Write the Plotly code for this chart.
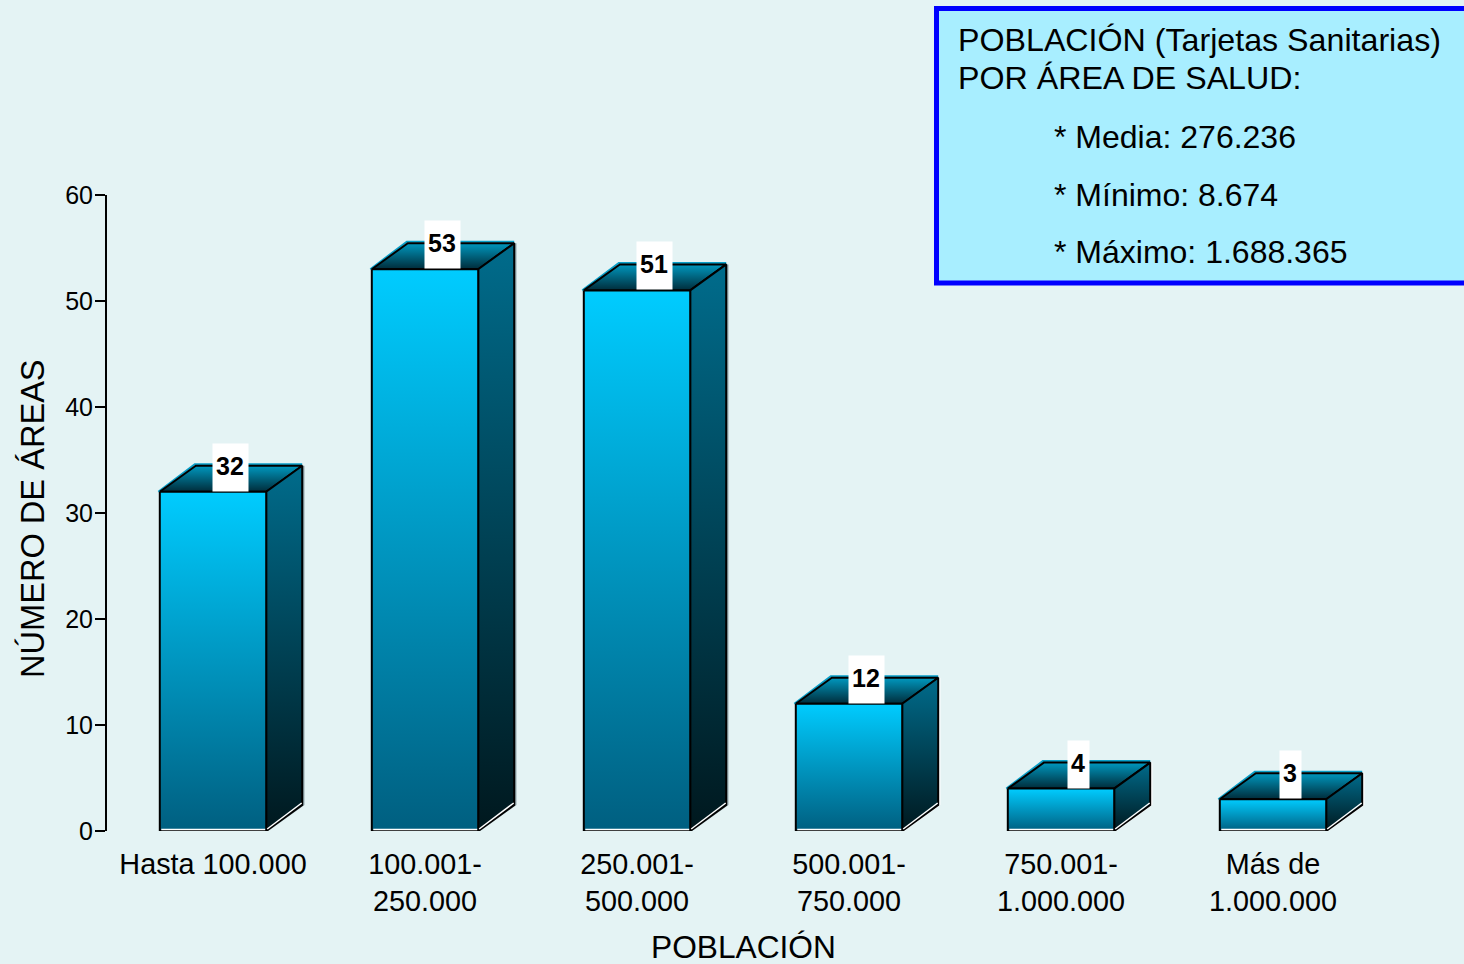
import plotly.graph_objects as go

categories = ["Hasta 100.000", "100.001-<br>250.000", "250.001-<br>500.000",
              "500.001-<br>750.000", "750.001-<br>1.000.000", "Más de<br>1.000.000"]
values = [32, 53, 51, 12, 4, 3]
y_ticks = [0, 10, 20, 30, 40, 50, 60]
box_head = ["POBLACIÓN (Tarjetas Sanitarias)", "POR ÁREA DE SALUD:"]
box_items = ["* Media: 276.236", "* Mínimo: 8.674", "* Máximo: 1.688.365"]

W, H = 1464, 964
LEFT, RIGHT, TOP, BOTTOM = 107, 1379, 195, 831
px_x = (RIGHT - LEFT) / 6
px_y = (BOTTOM - TOP) / 60
half = 53.2 / px_x
dx = 36 / px_x
dy = 26 / px_y
FONT = "Liberation Sans"


def vgrad(top, bottom):
    return dict(type="vertical", colorscale=[[0, bottom], [1, top]])


fig = go.Figure()


def poly(xs, ys, grad):
    fig.add_trace(go.Scatter(x=xs + xs[:1], y=ys + ys[:1], mode="lines", fill="toself",
                             fillgradient=grad, line=dict(color="#000000", width=2),
                             hoverinfo="skip", showlegend=False))


def edge(xs, ys, color, width):
    fig.add_trace(go.Scatter(x=xs, y=ys, mode="lines", line=dict(color=color, width=width),
                             hoverinfo="skip", showlegend=False))


for i, v in enumerate(values):
    c = i + 0.5
    l, r = c - half, c + half
    ox, oy = 1 / px_x, 1 / px_y
    # light highlight behind the top-left edge
    edge([l - 1.5 * ox, l + dx - ox, r + dx], [v, v + dy + 1.5 * oy, v + dy + 1.5 * oy], "#0a9fc8", 2)
    # pale outer highlight on the right and lower edges of the side face
    edge([r + 1.5 * ox, r + dx + 1.5 * ox, r + dx + 1.5 * ox], [0.5 * oy, dy + 0.5 * oy, v + dy],
         "#FFFFFF" if v < 20 else "#8FA3A8", 1.5)
    poly([l, l + dx, r + dx, r], [v, v + dy, v + dy, v], vgrad("#0098BF", "#002C3A"))
    poly([r, r + dx, r + dx, r], [v, v + dy, dy, 0], vgrad("#006C8C", "#00181E"))
    poly([l, r, r, l], [v, v, 0, 0], vgrad("#00CCFF", "#005F80"))
    # white highlights along the bottom
    edge([l + 1.5 * ox, r - ox], [1.6 * oy, 1.6 * oy], "#FFFFFF", 1.5)
    edge([r + ox, r + dx - 0.5 * ox], [2 * oy, dy + 2 * oy], "#FFFFFF", 1.5)

annotations = []
for i, v in enumerate(values):
    label = str(v)
    # white plate behind the value
    annotations.append(dict(x=i + 0.5, y=v, xref="x", yref="y", xanchor="center", yanchor="bottom",
                            xshift=17, text=" ", showarrow=False, bgcolor="#FFFFFF",
                            width=35 if len(label) > 1 else 21, height=47, borderpad=0,
                            font=dict(family=FONT, size=25, color="#000000")))
    annotations.append(dict(x=i + 0.5, y=v, xref="x", yref="y", xanchor="center", yanchor="bottom",
                            xshift=17, yshift=10, text=f"<b>{label}</b>", showarrow=False,
                            font=dict(family=FONT, size=25, color="#000000")))


def text(x, y, s, size, **kw):
    annotations.append(dict(x=x / W, y=1 - y / H, xref="paper", yref="paper", text=s, showarrow=False,
                            xanchor=kw.get("xanchor", "left"), yanchor="middle", textangle=kw.get("angle", 0),
                            font=dict(family=FONT, size=size, color="#000000")))


for yp, s in zip([40, 78], box_head):
    text(956, yp, s, 32.2)
for yp, s in zip([137, 195, 252], box_items):
    text(1052, yp, s, 32)
text(743, 947, "POBLACIÓN", 31.7, xanchor="center")
text(32, 519, "NÚMERO DE ÁREAS", 32.6, xanchor="center", angle=-90)

fig.update_layout(
    width=W, height=H, autosize=False,
    margin=dict(l=0, r=0, t=0, b=0),
    paper_bgcolor="#E4F3F4", plot_bgcolor="rgba(0,0,0,0)",
    font=dict(family=FONT, color="#000000"),
    annotations=annotations,
    shapes=[dict(type="rect", xref="paper", yref="paper", x0=936.5 / W, x1=1480 / W,
                 y0=1 - 283 / H, y1=1 - 8.5 / H, fillcolor="#A8EEFF",
                 line=dict(color="#0000FF", width=5), layer="above")],
    xaxis=dict(domain=[LEFT / W, RIGHT / W], range=[0, 6], tickmode="array", automargin=False,
               tickvals=[i + 0.5 for i in range(len(categories))], ticktext=categories,
               showgrid=False, zeroline=False, showline=False, ticks="outside", ticklen=7,
               tickcolor="rgba(0,0,0,0)",
               tickfont=dict(family=FONT, size=28.8, color="#000000")),
    yaxis=dict(domain=[1 - BOTTOM / H, 1 - TOP / H], range=[0, 60], tickmode="array", automargin=False,
               tickvals=y_ticks, showgrid=False, zeroline=False, showline=True, linecolor="#000000",
               linewidth=2, ticks="outside", ticklen=10, tickwidth=2, tickcolor="#000000",
               ticklabelstandoff=-3,
               tickfont=dict(family=FONT, size=25, color="#000000")),
)
fig.write_html("out.html", config={"displayModeBar": False},
               post_script="document.body.style.margin='0';")
